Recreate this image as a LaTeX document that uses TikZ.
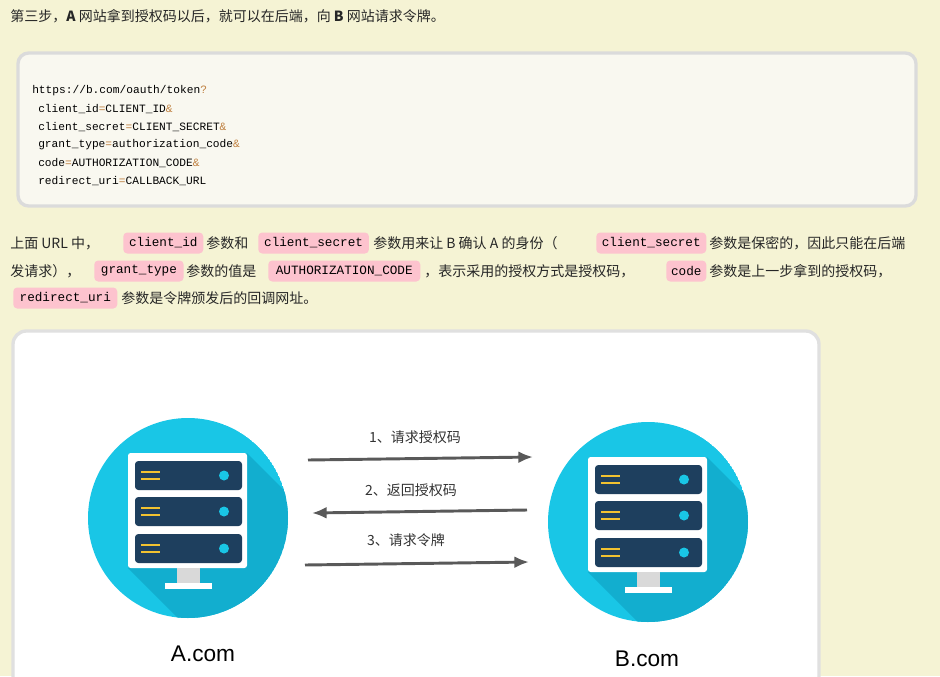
\documentclass[tikz,border=0pt]{standalone}
\usepackage{fontspec}
\setmainfont{Liberation Serif}
\setmonofont{Liberation Mono}
\newfontfamily\cjk{Noto Sans CJK SC}
\newfontfamily\lsans{Liberation Sans}
\begin{document}
\begin{tikzpicture}[x=0.75pt,y=-0.75pt,
  txt/.style={anchor=west,inner sep=0pt,font=\cjk\fontsize{10.5}{12}\selectfont,text=black!85},
  pill/.style={anchor=west,fill=pillc,rounded corners=3pt,inner sep=0pt,minimum height=15.75pt,font=\ttfamily\fontsize{9.5}{11}\selectfont},
  code/.style={anchor=west,inner sep=0pt,font=\ttfamily\fontsize{8.4}{10}\selectfont},
  lbl/.style={font=\cjk\fontsize{10.5}{12}\selectfont,text=black!80},
  arr/.style={draw=black!65,line width=2.2pt,-{Latex[length=11pt,width=9pt]}}]
\definecolor{bg}{HTML}{F5F3D4}
\definecolor{pillc}{HTML}{FDC3CE}
\definecolor{cyanc}{HTML}{19C6E6}
\definecolor{cyand}{HTML}{12AECF}
\definecolor{navy}{HTML}{1E3F5E}
\definecolor{gold}{HTML}{F2C230}
\usetikzlibrary{arrows.meta}
\fill[bg] (0,0) rectangle (940,676);
\useasboundingbox (0,0) rectangle (940,676);
\node[txt] (t0) at (10,16) {第三步，\textbf{A} 网站拿到授权码以后，就可以在后端，向 \textbf{B} 网站请求令牌。};
% code box
\draw[fill=black!4!bg!30!white,draw=black!14,line width=2.5pt,rounded corners=8pt] (18,53) rectangle (916,206);
\node[code] (c0) at (32,91) {https://b.com/oauth/token\textcolor{brown}{?}};
\node[code] (c1) at (38,109) {client\_id\textcolor{brown}{=}CLIENT\_ID\textcolor{brown}{\&}};
\node[code] (c2) at (38,127) {client\_secret\textcolor{brown}{=}CLIENT\_SECRET\textcolor{brown}{\&}};
\node[code] (c3) at (38,145) {grant\_type\textcolor{brown}{=}authorization\_code\textcolor{brown}{\&}};
\node[code] (c4) at (38,163) {code\textcolor{brown}{=}AUTHORIZATION\_CODE\textcolor{brown}{\&}};
\node[code] (c5) at (38,181) {redirect\_uri\textcolor{brown}{=}CALLBACK\_URL};
% paragraph
\node[txt] (p1) at (10,243) {上面 URL 中，};
\node[pill,minimum width=60pt] (q1) at (123,243) {client\_id};
\node[txt] (p2) at (206,243) {参数和};
\node[pill,minimum width=83pt] (q2) at (258,243) {client\_secret};
\node[txt] (p3) at (373,243) {参数用来让 B 确认 A 的身份（};
\node[pill,minimum width=82.5pt] (q3) at (596,243) {client\_secret};
\node[txt] (p4) at (709,243) {参数是保密的，因此只能在后端};
\node[txt] (p5) at (10,271) {发请求），};
\node[pill,minimum width=67pt] (q4) at (94,271) {grant\_type};
\node[txt] (p6) at (186,271) {参数的值是};
\node[pill,minimum width=114pt] (q5) at (268,271) {AUTHORIZATION\_CODE};
\node[txt] (p7) at (424,271) {，表示采用的授权方式是授权码，};
\node[pill,minimum width=30pt] (q6) at (666,271) {code};
\node[txt] (p8) at (709,271) {参数是上一步拿到的授权码，};
\node[pill,minimum width=78pt] (q7) at (13,298) {redirect\_uri};
\node[txt] (p9) at (121,298) {参数是令牌颁发后的回调网址。};
% white panel
\draw[fill=white,draw=black!12,line width=2.5pt,rounded corners=10pt] (13,331) rectangle (819,700);
% servers
\foreach \n/\cx/\cy in {A/188/518,B/648/522}{
  \begin{scope}
    \clip (\cx,\cy) circle (100);
    \fill[cyanc] (\cx,\cy) circle (100);
    \fill[cyand] (\cx+59,\cy-65) -- (\cx+300,\cy+176) -- (\cx+90,\cy+200) -- (\cx-60,\cy+50) -- cycle;
  \end{scope}
  \fill[white,rounded corners=2pt] (\cx-60,\cy-65) rectangle (\cx+59,\cy+50);
  \fill[black!15] (\cx-11,\cy+50) rectangle (\cx+12,\cy+65);
  \fill[white] (\cx-23,\cy+65) rectangle (\cx+24,\cy+71);
  \foreach \dy in {-57,-21,16}{
    \fill[navy,rounded corners=2.5pt] (\cx-53,\cy+\dy) rectangle (\cx+54,\cy+\dy+29);
    \draw[gold,line width=1.3pt] (\cx-47,\cy+\dy+11) -- (\cx-28,\cy+\dy+11) (\cx-47,\cy+\dy+18) -- (\cx-28,\cy+\dy+18);
    \fill[cyanc] (\cx+36,\cy+\dy+14.5) circle (5);
  }
  \node (srv\n) at (\cx,\cy) [minimum size=150pt,inner sep=0pt] {};
}
\node[font=\lsans\fontsize{17}{20}\selectfont] (la) at (203,654) {A.com};
\node[font=\lsans\fontsize{17}{20}\selectfont] (lb) at (647,659) {B.com};
\coordinate (a1s) at (308,460); \coordinate (a1e) at (533,457);
\coordinate (a2s) at (527,510); \coordinate (a2e) at (312,513);
\coordinate (a3s) at (305,565); \coordinate (a3e) at (529,562);
\draw[arr] (a1s) -- (a1e);
\draw[arr] (a2s) -- (a2e);
\draw[arr] (a3s) -- (a3e);
\node[lbl] (l1) at (415,437) {1、请求授权码};
\node[lbl] (l2) at (411,490) {2、返回授权码};
\node[lbl] (l3) at (406,540) {3、请求令牌};
\end{tikzpicture}
\end{document}
